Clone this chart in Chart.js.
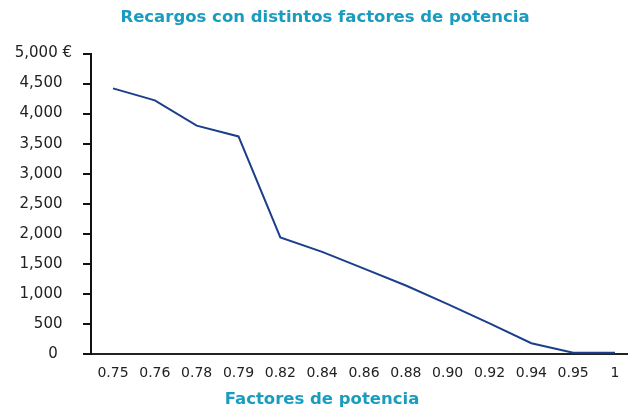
<!DOCTYPE html>
<html><head><meta charset="utf-8">
<script src="https://cdn.jsdelivr.net/npm/chart.js@4.4.1/dist/chart.umd.min.js"></script>
<style>html,body{margin:0;padding:0;background:#fff}#wrap{width:628px;height:411px}</style>
</head><body><div id="wrap"><canvas id="c" width="628" height="411"></canvas></div>
<script>
const categories = ["0.75","0.76","0.78","0.79","0.82","0.84","0.86","0.88","0.90","0.92","0.94","0.95","1"];
const recargos = [4420,4220,3800,3620,1940,1700,1420,1140,830,510,180,20,20];
const yTicks = [0,500,1000,1500,2000,2500,3000,3500,4000,4500,5000];
const titleText = "Recargos con distintos factores de potencia";
const xTitleText = "Factores de potencia";

const teal = '#1a9cbf';
const xTickFont = {family: "'DejaVu Sans', sans-serif", size: 14};
const yTickFont = {family: "'DejaVu Sans', sans-serif", size: 15};
const titleFont = "bold 16.5px 'DejaVu Sans', sans-serif";

const titlesPlugin = {
  id: 'titles',
  afterDraw(chart) {
    const ctx = chart.ctx;
    ctx.save();
    ctx.fillStyle = teal;
    ctx.font = titleFont;
    ctx.textAlign = 'center';
    ctx.textBaseline = 'alphabetic';
    ctx.fillText(titleText, 325, 21.5);
    ctx.fillText(xTitleText, 322, 404);
    ctx.restore();
  }
};

new Chart(document.getElementById('c'), {
  type: 'line',
  data: {
    datasets: [{
      data: recargos.map((v, i) => ({x: i, y: v})),
      borderColor: '#1b3f8b', borderWidth: 2, pointRadius: 0, tension: 0, fill: false
    }]
  },
  options: {
    responsive: false, animation: false,
    layout: {padding: {left: 0, right: 0, top: 53.5, bottom: 0}, autoPadding: false},
    plugins: {legend: {display: false}, tooltip: {enabled: false}, title: {display: false}},
    scales: {
      x: {
        type: 'linear', min: -0.526, max: 12.31,
        afterBuildTicks: s => { s.ticks = categories.map((_, i) => ({value: i})); },
        afterFit: s => { s.height = 57; s.paddingLeft = 0; s.paddingRight = 0; },
        ticks: {autoSkip: false, maxRotation: 0, padding: 11, color: '#222', font: xTickFont,
          callback: v => categories[v]},
        grid: {display: false, drawTicks: false},
        border: {display: true, color: '#222', width: 2}
      },
      y: {
        min: 0, max: 5000,
        afterBuildTicks: s => { s.ticks = yTicks.map(v => ({value: v})); },
        afterFit: s => { s.width = 91; },
        ticks: {padding: 11, color: '#222', font: yTickFont,
          callback: v => v === 5000 ? v.toLocaleString('en-US') + ' €'
                       : (v === 0 ? '0   ' : v.toLocaleString('en-US') + '  ')},
        grid: {drawOnChartArea: false, drawTicks: true, tickLength: 8, color: '#111', lineWidth: 2},
        border: {display: true, color: '#111', width: 2}
      }
    }
  },
  plugins: [titlesPlugin]
});
</script></body></html>
